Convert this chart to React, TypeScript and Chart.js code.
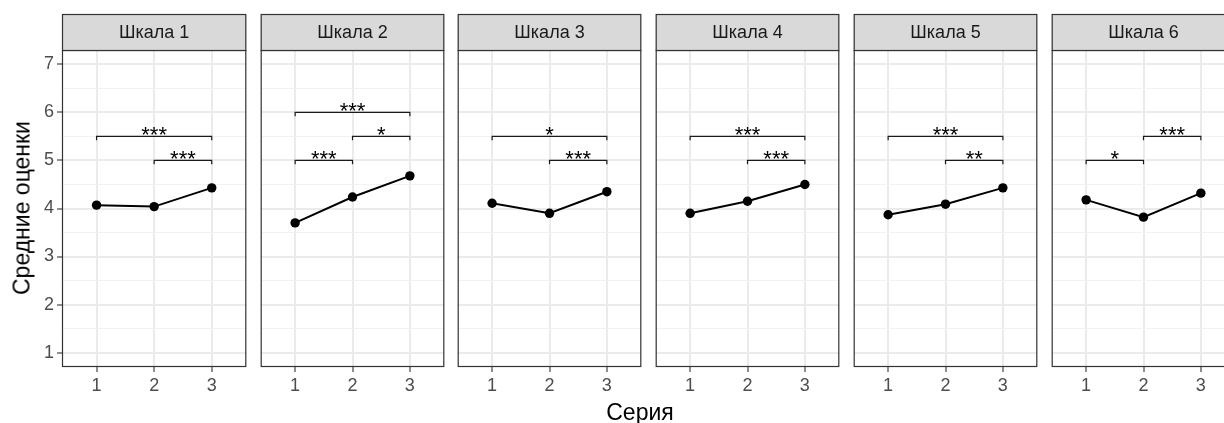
import React, { useEffect, useRef } from 'react';
import { Chart, registerables } from 'chart.js';

Chart.register(...registerables);

// ---- data ----
const categories = ['1', '2', '3'];
const xValues = [1, 2, 3];
const panelTitles = ['Шкала 1', 'Шкала 2', 'Шкала 3', 'Шкала 4', 'Шкала 5', 'Шкала 6'];

const means1 = [4.07, 4.04, 4.43];
const means2 = [3.70, 4.24, 4.68];
const means3 = [4.11, 3.90, 4.35];
const means4 = [3.90, 4.15, 4.50];
const means5 = [3.87, 4.09, 4.43];
const means6 = [4.18, 3.82, 4.32];

type Bracket = { from: number; to: number; y: number; label: string };
const brackets1: Bracket[] = [
  { from: 1, to: 3, y: 5.5, label: '***' },
  { from: 2, to: 3, y: 5.0, label: '***' },
];
const brackets2: Bracket[] = [
  { from: 1, to: 3, y: 6.0, label: '***' },
  { from: 2, to: 3, y: 5.5, label: '*' },
  { from: 1, to: 2, y: 5.0, label: '***' },
];
const brackets3: Bracket[] = [
  { from: 1, to: 3, y: 5.5, label: '*' },
  { from: 2, to: 3, y: 5.0, label: '***' },
];
const brackets4: Bracket[] = [
  { from: 1, to: 3, y: 5.5, label: '***' },
  { from: 2, to: 3, y: 5.0, label: '***' },
];
const brackets5: Bracket[] = [
  { from: 1, to: 3, y: 5.5, label: '***' },
  { from: 2, to: 3, y: 5.0, label: '**' },
];
const brackets6: Bracket[] = [
  { from: 1, to: 2, y: 5.0, label: '*' },
  { from: 2, to: 3, y: 5.5, label: '***' },
];

const yMajorTicks = [1, 2, 3, 4, 5, 6, 7];
const yMinorTicks = [1.5, 2.5, 3.5, 4.5, 5.5, 6.5];
const yTitle = 'Средние оценки';
const xTitle = 'Серия';

const allMeans = [means1, means2, means3, means4, means5, means6];
const allBrackets = [brackets1, brackets2, brackets3, brackets4, brackets5, brackets6];

// ---- layout / style ----
const FONT = "'Liberation Sans', Arial, Helvetica, sans-serif";
const PANEL_LEFT0 = 62;
const PANEL_STEP = 197.7;
const PANEL_W = 185;
const STRIP_TOP = 14;
const PANEL_TOP = 50;
const PANEL_BOTTOM = 367;
const CANVAS_H = 405;
const TIP = 0.08;
const TICK_FONT = 18;
const STRIP_FONT = 18;
const STAR_FONT = 22;

function Panel({ index }: { index: number }) {
  const ref = useRef<HTMLCanvasElement>(null);
  const panelLeft = Math.round(PANEL_LEFT0 + index * PANEL_STEP);
  const padL = index === 0 ? panelLeft : 4;
  const padR = 4;
  const width = padL + PANEL_W + padR;
  const canvasLeft = panelLeft - padL;
  const means = allMeans[index];
  const brackets = allBrackets[index];
  const title = panelTitles[index];

  useEffect(() => {
    if (!ref.current) return;
    const facetPlugin = {
      id: 'facet',
      afterDraw(chart: any) {
        const { ctx, chartArea: a, scales } = chart;
        ctx.save();
        // significance labels
        ctx.fillStyle = '#000000';
        ctx.font = `${STAR_FONT}px ${FONT}`;
        ctx.textAlign = 'center';
        ctx.textBaseline = 'alphabetic';
        brackets.forEach((b) => {
          const x = scales.x.getPixelForValue((b.from + b.to) / 2);
          const y = scales.y.getPixelForValue(b.y);
          ctx.fillText(b.label, x, y + 6);
        });
        // panel border
        ctx.strokeStyle = '#333333';
        ctx.lineWidth = 1.2;
        ctx.strokeRect(a.left + 0.5, a.top + 0.5, a.right - a.left - 1, a.bottom - a.top - 1);
        // strip
        ctx.fillStyle = '#D9D9D9';
        ctx.fillRect(a.left, STRIP_TOP, a.right - a.left, a.top - STRIP_TOP);
        ctx.strokeRect(a.left + 0.5, STRIP_TOP + 0.5, a.right - a.left - 1, a.top - STRIP_TOP);
        ctx.fillStyle = '#1A1A1A';
        ctx.font = `${STRIP_FONT}px ${FONT}`;
        ctx.textBaseline = 'middle';
        ctx.fillText(title, (a.left + a.right) / 2, (STRIP_TOP + a.top) / 2 + 1);
        ctx.restore();
      },
    };

    const bracketSets = brackets.map((b) => ({
      type: 'line' as const,
      data: [
        { x: b.from, y: b.y - TIP },
        { x: b.from, y: b.y },
        { x: b.to, y: b.y },
        { x: b.to, y: b.y - TIP },
      ],
      borderColor: '#1A1A1A',
      borderWidth: 1.2,
      pointRadius: 0,
      fill: false,
      tension: 0,
    }));

    const chart = new Chart(ref.current, {
      type: 'line',
      data: {
        datasets: [
          {
            data: xValues.map((x, i) => ({ x, y: means[i] })),
            borderColor: '#000000',
            borderWidth: 2,
            pointRadius: 4.7,
            pointBackgroundColor: '#000000',
            pointBorderWidth: 0,
            fill: false,
            tension: 0,
          },
          ...bracketSets,
        ],
      },
      options: {
        animation: false,
        responsive: false,
        events: [],
        layout: { padding: { top: PANEL_TOP, right: padR, left: 0, bottom: 0 } },
        plugins: { legend: { display: false }, tooltip: { enabled: false } },
        scales: {
          x: {
            type: 'linear',
            min: 0.4,
            max: 3.6,
            afterBuildTicks: (s: any) => {
              s.ticks = xValues.map((v) => ({ value: v }));
            },
            afterFit: (s: any) => {
              s.height = CANVAS_H - PANEL_BOTTOM;
            },
            ticks: {
              autoSkip: false,
              maxRotation: 0,
              padding: 3,
              color: '#4D4D4D',
              font: { family: FONT, size: TICK_FONT },
              callback: (v: any) => {
                const i = xValues.indexOf(Number(v));
                return i >= 0 ? categories[i] : '';
              },
            },
            grid: {
              color: '#EBEBEB',
              lineWidth: 2,
              tickColor: '#333333',
              tickLength: 5,
              tickWidth: 1.1,
            },
            border: { display: false },
          },
          y: {
            type: 'linear',
            min: 0.7,
            max: 7.3,
            afterBuildTicks: (s: any) => {
              s.ticks = [...yMajorTicks, ...yMinorTicks]
                .sort((p, q) => p - q)
                .map((v) => ({ value: v }));
            },
            afterFit: (s: any) => {
              s.width = padL;
            },
            ticks: {
              display: index === 0,
              padding: 3,
              color: '#4D4D4D',
              font: { family: FONT, size: TICK_FONT },
              callback: (v: any) => (yMajorTicks.includes(Number(v)) ? String(v) : ''),
            },
            grid: {
              color: (c: any) => (yMajorTicks.includes(c.tick?.value) ? '#EBEBEB' : '#F2F2F2'),
              lineWidth: (c: any) => (yMajorTicks.includes(c.tick?.value) ? 2 : 1.1),
              drawTicks: index === 0,
              tickLength: 5,
              tickWidth: 1.1,
              tickColor: (c: any) =>
                yMajorTicks.includes(c.tick?.value) ? '#333333' : 'rgba(0,0,0,0)',
            },
            border: { display: false },
          },
        },
      },
      plugins: [facetPlugin],
    } as any);
    return () => chart.destroy();
  }, []);

  return (
    <canvas
      ref={ref}
      width={width}
      height={CANVAS_H}
      style={{ position: 'absolute', left: canvasLeft, top: 0, width, height: CANVAS_H }}
    />
  );
}

export default function App() {
  return (
    <div
      style={{
        position: 'fixed',
        left: 0,
        top: 0,
        width: 1224,
        height: 423,
        overflow: 'hidden',
        background: '#FFFFFF',
        fontFamily: FONT,
      }}
    >
      {panelTitles.map((_, i) => (
        <Panel key={i} index={i} />
      ))}
      <div
        style={{
          position: 'absolute',
          left: 22,
          top: 208,
          transform: 'translate(-50%, -50%) rotate(-90deg)',
          whiteSpace: 'nowrap',
          fontSize: 23,
          color: '#000000',
          lineHeight: 1,
        }}
      >
        {yTitle}
      </div>
      <div
        style={{
          position: 'absolute',
          left: 640,
          top: 412,
          transform: 'translate(-50%, -50%)',
          whiteSpace: 'nowrap',
          fontSize: 23,
          color: '#000000',
          lineHeight: 1,
        }}
      >
        {xTitle}
      </div>
    </div>
  );
}
